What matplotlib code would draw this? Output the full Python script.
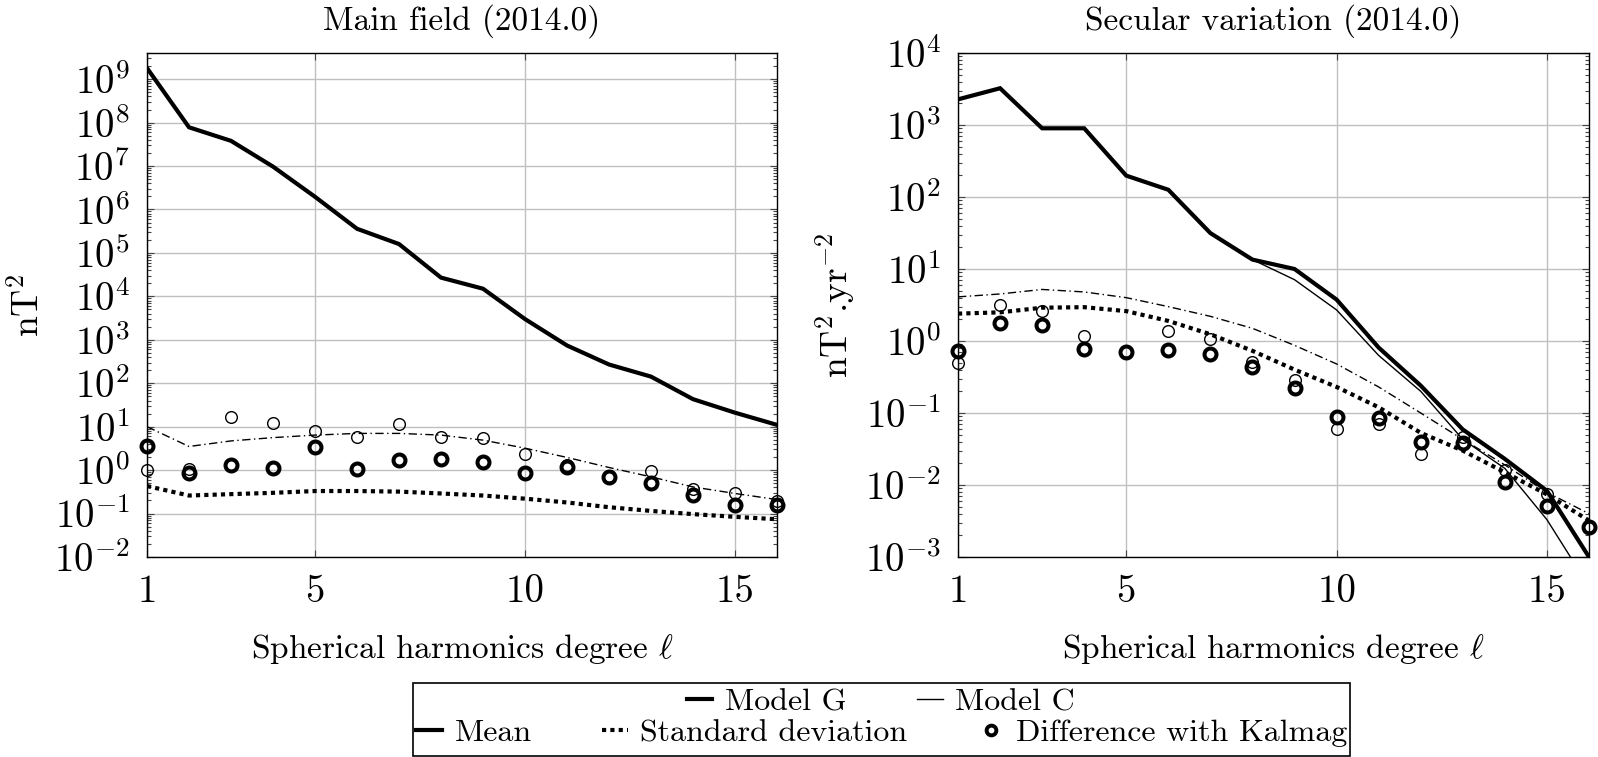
import numpy as np
import matplotlib
matplotlib.use("Agg")
import matplotlib.pyplot as plt
from matplotlib.ticker import LogLocator, FuncFormatter, FixedLocator, NullFormatter
from matplotlib.lines import Line2D
from matplotlib.patches import Rectangle

plt.rcParams['font.family'] = 'serif'
plt.rcParams['font.serif'] = ['cmr10']
plt.rcParams['mathtext.fontset'] = 'cm'
plt.rcParams['axes.unicode_minus'] = False
plt.rcParams['axes.formatter.use_mathtext'] = True

FS = 23
FS_TICK = 28
FS_YLAB = 27
FS_TITLE = 24
FS_XLAB = 24

degrees = list(range(1, 17))

# ---- Main field (2014.0) ----
mf_mean_G = [1.8e9, 7.8e7, 3.8e7, 9.7e6, 1.96e6, 3.6e5, 1.6e5, 2.7e4, 1.5e4,
             3.0e3, 740, 270, 142, 43, 21, 11]
mf_mean_C = [1.8e9, 7.8e7, 3.8e7, 9.7e6, 1.96e6, 3.6e5, 1.6e5, 2.7e4, 1.5e4,
             3.0e3, 740, 270, 142, 43, 21, 11]
mf_std_G = [0.43, 0.26, 0.28, 0.30, 0.33, 0.33, 0.32, 0.29, 0.26, 0.22, 0.18,
            0.14, 0.115, 0.097, 0.084, 0.074]
mf_std_C = [10.0, 3.5, 4.7, 5.6, 6.4, 7.0, 7.0, 6.4, 4.9, 3.2, 1.96, 1.15,
            0.70, 0.41, 0.29, 0.21]
mf_diff_G = [3.6, 0.84, 1.3, 1.09, 3.46, 1.04, 1.7, 1.76, 1.56, 0.87, 1.15,
             0.70, 0.51, 0.27, 0.155, 0.16]
mf_diff_C = [1.0, 1.04, 16.4, 11.9, 8.1, 5.7, 11.5, 5.7, 5.4, 2.4, 1.3, 0.75,
             0.97, 0.36, 0.29, 0.19]

# ---- Secular variation (2014.0) ----
sv_mean_G = [2270, 3240, 900, 900, 198, 126, 31.5, 13.5, 10.0, 3.76, 0.81,
             0.24, 0.059, 0.023, 0.0083, 0.001]
sv_mean_C = [2270, 3240, 900, 900, 198, 126, 31.5, 13.5, 7.1, 2.7, 0.63,
             0.20, 0.043, 0.017, 0.0033, 0.00039]
sv_std_G = [2.4, 2.5, 2.9, 2.95, 2.6, 1.9, 1.24, 0.73, 0.40, 0.23, 0.12,
            0.053, 0.030, 0.015, 0.0074, 0.0032]
sv_std_C = [4.1, 4.5, 5.2, 4.8, 4.0, 3.0, 2.2, 1.5, 0.87, 0.48, 0.23, 0.10,
            0.043, 0.019, 0.0079, 0.0040]
sv_diff_G = [0.73, 1.8, 1.65, 0.78, 0.70, 0.75, 0.65, 0.43, 0.22, 0.088,
             0.086, 0.040, 0.038, 0.011, 0.0051, 0.0026]
sv_diff_C = [0.49, 3.2, 2.6, 1.17, 0.73, 1.38, 1.07, 0.51, 0.29, 0.060,
             0.071, 0.027, 0.047, 0.016, 0.0076, 0.0027]

titles = ["Main field (2014.0)", "Secular variation (2014.0)"]
ylabels = [r"nT$^2$", r"nT$^2$.yr$^{-2}$"]
xlabel = r"Spherical harmonics degree $\ell$"
xticks = [1, 5, 10, 15]
legend_row1 = ["Model G", "Model C"]
legend_row2 = ["Mean", "Standard deviation", "Difference with Kalmag"]

fig = plt.figure(figsize=(15.98, 7.57), dpi=100)
ax1 = fig.add_axes([147/1598, 1-557/757, 630/1598, 504/757])
ax2 = fig.add_axes([958/1598, 1-557/757, 631/1598, 504/757])

thick_lw = 3.0
thin_lw = 1.0
dotted = (0, (1, 1))
dashdot = (0, (6, 2.5, 1, 2.5))

def draw(ax, mG, mC, sG, sC, dG, dC, ylim, title, ylabel, ylabpad):
    ax.plot(degrees, mC, color='black', lw=thin_lw, zorder=3)
    ax.plot(degrees, mG, color='black', lw=thick_lw, zorder=3,
            solid_joinstyle='miter')
    ax.plot(degrees, sC, color='black', lw=thin_lw, ls=dashdot, zorder=3)
    ax.plot(degrees, sG, color='black', lw=thick_lw, ls=dotted, zorder=3)
    ax.plot(degrees, dC, ls='none', marker='o', ms=8.4, mfc='none',
            mec='black', mew=1.0, clip_on=False, zorder=4)
    ax.plot(degrees, dG, ls='none', marker='o', ms=8.6, mfc='none',
            mec='black', mew=2.9, clip_on=False, zorder=4)
    ax.set_yscale('log')
    ax.set_xlim(1, 16)
    ax.set_ylim(*ylim)
    ax.xaxis.set_major_locator(FixedLocator(xticks))
    ax.set_xticklabels([str(t) for t in xticks])
    ax.yaxis.set_major_locator(LogLocator(base=10, numticks=30))
    ax.yaxis.set_minor_locator(LogLocator(base=10, subs=np.arange(2, 10), numticks=300))
    ax.yaxis.set_minor_formatter(NullFormatter())
    ax.yaxis.set_major_formatter(FuncFormatter(
        lambda v, p: r"$10^{%d}$" % int(round(np.log10(v)))))
    ax.grid(True, which='major', color='#c0c0c0', lw=1.0, zorder=0)
    ax.set_axisbelow(True)
    ax.tick_params(which='both', direction='in', top=True, right=True,
                   labelsize=FS_TICK, width=0.8, color='#444444')
    ax.tick_params(which='major', length=5)
    ax.tick_params(which='minor', length=3)
    ax.tick_params(axis='y', pad=12)
    ax.tick_params(axis='x', pad=12)
    for s in ax.spines.values():
        s.set_linewidth(1.0)
    ax.set_title(title, fontsize=FS_TITLE, pad=17)
    ax.set_ylabel(ylabel, fontsize=FS_YLAB, labelpad=ylabpad)
    ax.set_xlabel(xlabel, fontsize=FS_XLAB, labelpad=16)

draw(ax1, mf_mean_G, mf_mean_C, mf_std_G, mf_std_C, mf_diff_G, mf_diff_C,
     (1e-2, 4e9), titles[0], ylabels[0], 6)
draw(ax2, sv_mean_G, sv_mean_C, sv_std_G, sv_std_C, sv_diff_G, sv_diff_C,
     (1e-3, 1e4), titles[1], ylabels[1], 6)

# legend
h_G = Line2D([], [], color='black', lw=thick_lw)
h_C = Line2D([], [], color='black', lw=thin_lw)
h_mean = Line2D([], [], color='black', lw=thick_lw)
h_std = Line2D([], [], color='black', lw=thick_lw, ls=dotted)
h_diff = Line2D([], [], ls='none', marker='o', ms=7, mfc='none', mec='black', mew=2.8)

kw = dict(frameon=False, fontsize=FS, handlelength=0.8, handletextpad=0.4,
          columnspacing=2.2, borderpad=0, borderaxespad=0, loc='center')
fig.legend([h_G, h_C], legend_row1, ncol=2,
           bbox_to_anchor=(881/1598, 1-702/757), **kw)
fig.legend([h_mean, h_std, h_diff], legend_row2, ncol=3,
           bbox_to_anchor=(882/1598, 1-733/757), **kw)
fig.patches.append(Rectangle((413/1598, 1-756/757), (1350-413)/1598,
                             (756-683)/757, transform=fig.transFigure,
                             fill=False, edgecolor='black', lw=1.2))

fig.savefig("out.png", dpi=100)
